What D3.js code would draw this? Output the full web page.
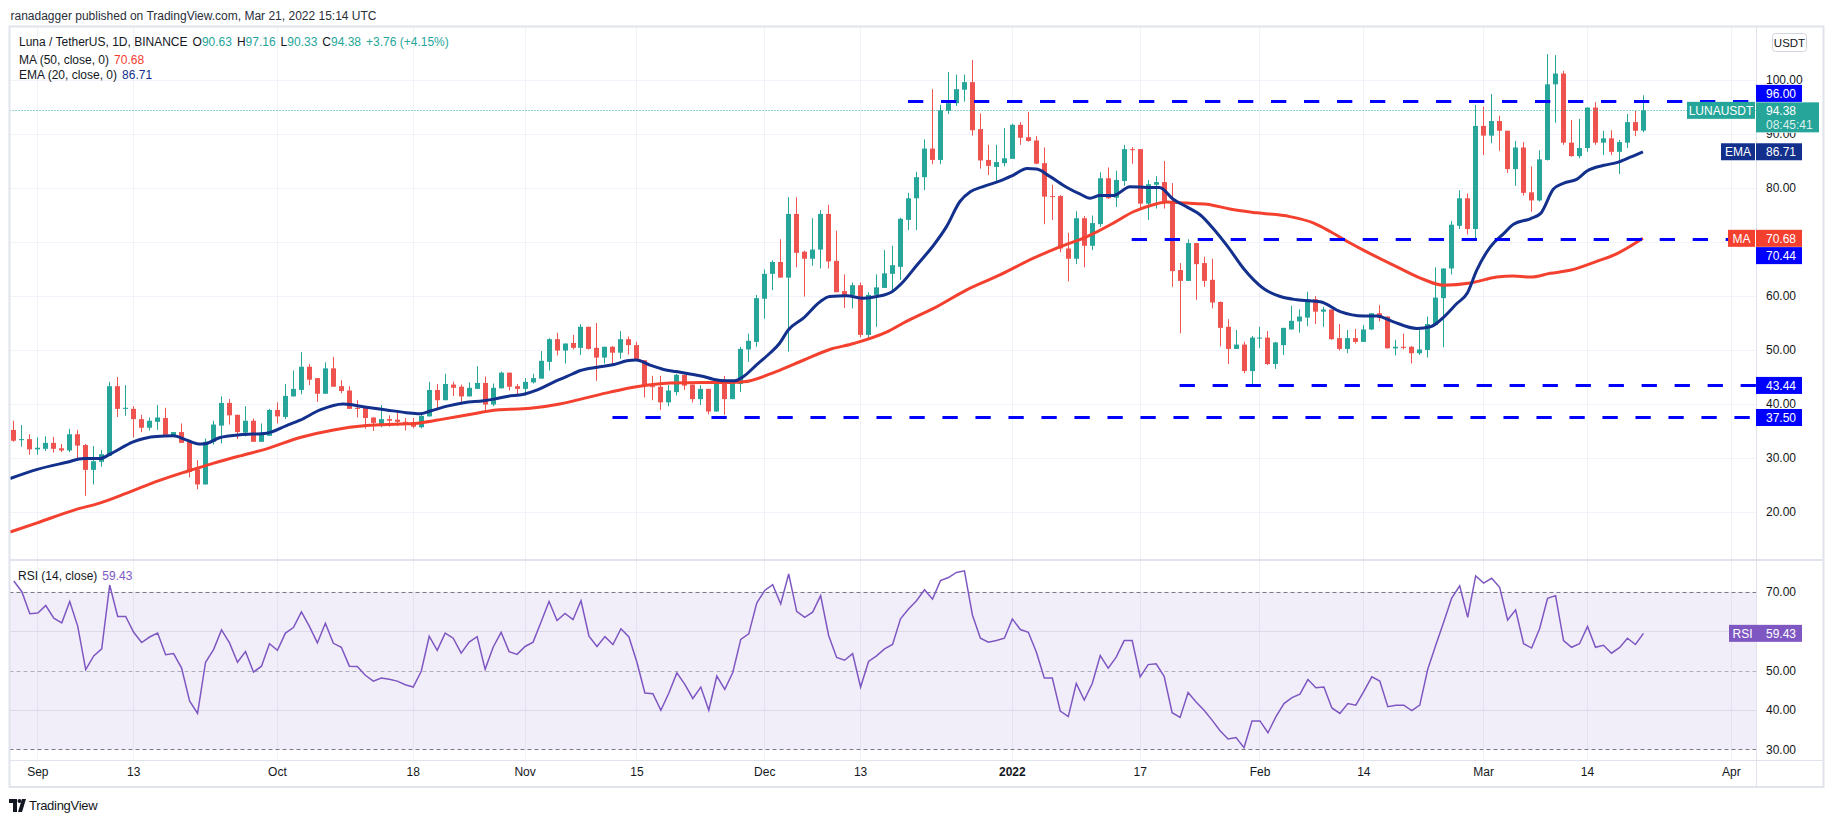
<!DOCTYPE html>
<html>
<head>
<meta charset="utf-8">
<script src="https://cdn.jsdelivr.net/npm/d3@7"></script>
<style>
html, body { margin: 0; padding: 0; background: #fff; }
svg { display: block; font-family: "Liberation Sans", Arial, sans-serif; }
</style>
</head>
<body>
<svg id="chart" width="1834" height="823"></svg>
<script>
// daily candles, Aug 29 2021 .. Mar 21 2022
var firstDay = Date.UTC(2021, 7, 29);

var opens = [
  35.2,33.3,33.5,31.6,31.7,32.8,31.8,31.4,34.4,32.4,
  27.8,29.3,30.4,43.3,39.1,39.1,37.2,35.6,36.7,37.4,
  34.2,34.8,33.0,27.9,25.1,33.0,36.0,40.2,38.0,34.7,
  36.9,33.0,34.1,38.9,37.6,41.4,42.6,46.9,44.8,41.9,
  46.6,43.3,42.5,39.3,39.3,37.5,36.2,37.2,37.1,36.7,
  36.6,35.7,37.7,42.6,40.7,43.6,43.2,41.4,42.8,43.9,
  39.9,42.9,45.8,43.3,42.8,44.0,44.7,47.8,52.0,49.9,
  51.3,50.4,54.3,50.4,48.6,50.6,49.5,52.0,50.9,48.1,
  43.3,43.2,40.3,42.2,45.4,43.6,40.9,42.8,38.6,43.8,
  40.9,43.7,50.1,51.5,59.5,64.1,66.3,63.4,75.2,68.2,
  66.9,68.6,75.2,66.5,60.9,60.2,62.0,52.8,60.2,61.5,
  64.1,65.4,74.1,78.1,82.0,87.3,85.2,94.3,95.7,98.2,
  99.6,90.9,85.2,83.9,84.6,85.4,91.7,89.4,88.8,84.6,
  78.5,78.5,68.8,66.9,74.4,69.3,73.3,81.8,78.2,81.3,
  87.2,87.2,77.1,80.6,81.1,77.5,64.8,62.8,69.8,66.1,
  63.0,58.9,54.3,50.2,51.0,46.1,52.2,52.3,47.4,50.9,
  53.8,55.3,56.0,59.4,57.1,57.5,52.2,50.2,52.2,51.5,
  53.8,56.8,56.2,50.3,50.6,50.6,49.4,50.0,54.6,59.6,
  65.1,73.0,78.1,72.4,91.5,89.7,92.4,90.6,83.5,87.5,
  79.2,77.7,85.2,99.2,101.2,88.4,85.9,87.4,94.9,88.4,
  89.2,86.7,88.4,92.2,90.63
];
var highs = [
  36.9,36.1,34.4,33.8,34.0,33.9,32.6,35.4,35.2,32.6,
  32.2,31.5,44.1,45.0,43.5,39.6,38.0,37.5,39.8,39.3,
  34.8,36.4,33.0,29.6,33.6,36.9,41.4,40.9,38.0,39.6,
  37.3,36.4,39.1,40.3,43.7,46.2,49.6,47.4,44.8,47.7,
  48.7,44.4,43.3,40.7,39.3,37.5,39.8,37.9,38.5,37.4,
  37.4,38.3,44.1,43.7,45.6,44.1,43.6,44.0,47.0,45.1,
  43.8,46.0,45.8,43.7,44.8,45.6,49.8,52.2,53.2,51.2,
  52.8,54.8,54.3,55.0,50.6,50.7,53.5,52.5,51.5,48.1,
  45.2,45.2,43.5,45.6,45.4,43.6,43.5,42.8,43.8,45.2,
  44.4,50.6,53.0,60.2,64.9,66.6,70.5,78.3,78.3,68.4,
  74.4,75.9,76.9,72.1,64.0,62.5,62.5,60.7,64.0,68.5,
  69.3,74.5,79.1,83.0,89.0,98.3,95.4,101.5,101.0,101.0,
  103.7,93.8,88.0,88.0,91.1,91.9,92.2,94.1,89.6,87.5,
  80.6,78.7,71.7,75.7,74.8,74.9,82.9,83.8,83.2,88.0,
  87.6,87.2,81.5,82.2,85.0,80.9,66.1,70.5,69.8,67.3,
  66.9,59.0,55.7,53.7,51.5,52.6,54.3,53.5,51.5,54.1,
  58.2,57.5,60.8,60.0,58.0,57.5,54.8,53.7,53.9,54.6,
  56.8,58.3,56.2,51.9,53.0,50.7,54.2,56.2,65.3,65.1,
  73.9,79.6,79.0,95.4,95.1,97.4,93.4,90.6,88.7,88.5,
  84.0,87.0,104.8,104.6,101.7,92.6,92.8,94.9,95.9,90.6,
  90.7,88.9,93.7,94.3,97.16
];
var lows = [
  33.0,32.1,30.6,30.6,31.3,31.0,31.1,31.1,30.0,23.0,
  25.1,28.4,30.4,37.6,37.8,33.8,34.8,35.1,35.2,34.2,
  34.0,32.8,26.4,24.2,25.1,32.5,32.7,36.2,33.5,34.0,
  33.0,33.0,34.1,36.4,37.2,41.4,41.8,43.5,40.4,41.9,
  43.2,42.0,39.1,37.5,35.4,35.0,35.7,35.8,35.9,35.1,
  35.5,35.5,37.7,39.1,40.7,41.5,40.1,41.4,42.8,38.6,
  39.6,42.9,42.5,41.5,41.5,43.8,44.7,46.2,49.0,47.5,
  50.1,49.1,50.1,44.3,47.5,47.2,48.4,49.2,48.0,41.2,
  40.7,38.9,39.6,41.6,42.6,40.3,39.8,38.1,38.6,38.0,
  40.9,42.2,47.8,50.6,55.8,61.1,63.4,49.7,65.3,59.9,
  65.6,65.1,65.1,60.7,57.8,57.7,52.3,51.9,54.3,61.5,
  60.8,63.0,72.2,72.2,79.6,84.4,84.4,93.7,95.2,96.0,
  89.7,83.6,82.4,81.2,84.0,85.4,88.0,88.6,84.4,73.3,
  74.1,68.1,62.7,65.9,65.3,68.5,72.8,78.0,76.5,80.4,
  84.5,76.2,74.1,76.2,76.2,61.7,53.1,62.8,59.3,61.7,
  57.7,50.7,47.4,50.2,45.7,43.5,50.4,47.2,46.5,49.1,
  53.8,53.2,54.4,54.8,54.3,51.9,49.9,49.4,51.2,51.5,
  53.7,55.3,50.3,49.0,50.1,47.5,49.1,48.6,54.6,50.5,
  64.0,72.4,71.4,70.6,86.1,88.3,86.9,82.8,80.4,78.6,
  75.6,77.5,85.1,92.1,88.0,85.8,85.5,86.7,88.0,86.1,
  86.1,82.6,87.4,89.6,90.33
];
var closes = [
  33.2,33.5,31.6,31.9,32.8,31.7,31.4,34.4,32.3,27.8,
  29.4,30.7,43.3,39.1,39.3,37.2,35.6,36.9,37.5,34.3,
  34.8,32.8,27.4,25.1,33.0,36.2,40.2,37.9,34.8,36.9,
  33.0,34.3,38.9,37.7,41.5,42.8,46.9,44.5,41.9,46.6,
  43.2,42.4,39.1,39.1,37.4,36.5,37.2,36.9,36.7,36.5,
  35.8,37.8,42.6,40.7,43.7,43.0,41.4,43.0,43.9,39.9,
  43.0,45.8,43.2,42.8,44.1,44.8,48.0,52.0,49.9,51.2,
  50.4,54.3,50.2,48.6,50.6,49.5,52.0,50.9,48.0,43.3,
  43.2,40.3,42.5,45.4,43.4,40.9,42.8,38.6,43.8,40.9,
  44.0,50.2,51.7,59.6,64.1,66.3,63.4,75.2,68.0,66.9,
  68.6,75.2,66.4,60.7,60.1,62.0,52.8,60.2,61.6,64.2,
  65.7,74.3,78.1,82.0,87.3,85.2,94.4,95.7,98.3,99.6,
  90.7,85.1,84.1,84.8,85.5,91.7,89.3,88.7,84.5,78.4,
  78.4,68.8,66.9,74.4,69.3,73.5,81.8,78.1,81.5,87.2,
  87.0,77.1,80.7,81.1,77.5,64.6,62.8,69.8,65.9,62.8,
  58.8,54.1,50.2,51.0,46.1,52.3,52.3,47.4,51.4,54.1,
  55.4,56.2,59.4,57.1,57.5,52.0,50.2,52.2,51.5,53.8,
  56.8,56.0,50.3,50.6,50.4,49.4,50.1,54.8,59.7,65.1,
  73.2,78.1,72.4,91.5,89.7,92.4,90.6,83.5,87.5,79.1,
  77.7,85.3,99.2,101.2,88.4,85.9,87.4,94.9,88.4,89.2,
  86.7,88.5,92.2,90.6,94.38
];
var rsiValues = [
  72.7,70.0,64.4,64.6,66.5,63.3,62.1,67.5,61.2,50.2,
  53.7,55.5,71.7,63.7,63.7,59.7,57.1,58.5,59.5,54.0,
  54.3,50.6,42.3,39.1,52.1,55.3,60.3,57.0,52.1,54.8,
  49.6,51.1,56.8,55.1,59.5,60.9,64.9,61.2,57.0,62.0,
  56.9,55.9,51.1,51.0,48.8,47.3,48.1,47.8,47.3,46.4,
  45.8,49.8,58.7,55.1,59.5,58.2,54.4,57.2,58.6,50.3,
  55.9,59.7,54.8,54.1,56.1,57.2,62.3,67.5,62.7,64.5,
  62.9,67.7,58.7,56.1,58.6,56.6,60.6,58.5,52.1,44.3,
  44.1,39.9,44.3,49.4,46.5,42.9,45.8,39.9,48.6,45.2,
  49.5,57.9,59.3,67.1,70.3,71.8,66.9,74.5,65.0,63.5,
  64.8,69.0,58.9,53.3,52.6,54.3,45.8,52.3,53.7,55.5,
  56.6,63.1,65.6,67.7,70.5,68.1,72.8,73.6,74.9,75.3,
  64.1,58.2,57.2,57.6,58.2,63.1,60.4,59.7,54.7,48.1,
  48.1,39.7,38.3,46.7,42.5,46.7,53.8,50.6,53.4,57.6,
  57.6,48.4,51.5,51.7,48.5,39.3,38.1,44.4,42.0,39.9,
  37.4,34.7,32.6,33.0,30.4,37.2,37.2,34.2,38.3,41.6,
  43.1,44.0,47.7,45.6,45.8,40.5,39.1,41.6,41.2,44.7,
  48.4,47.3,40.8,41.2,41.2,39.8,41.2,50.3,56.4,62.3,
  68.4,71.5,63.5,74.0,72.2,73.4,71.1,62.8,65.4,56.8,
  55.7,60.6,68.3,69.0,57.6,55.9,56.8,61.2,55.9,56.4,
  54.4,55.8,58.2,56.6,59.43
];

// moving averages, days counted from Sep 1 2021
var maDays = [-3.4,0,4.7,7.9,11.2,15.4,18.7,22.0,25.4,28.7,32.9,37.1,41.2,45.4,47.9,50.8,55.0,57.5,61.7,65.4,
  68.3,71.7,75.0,79.2,83.4,86.7,88.4,92.5,95.9,99.2,102.2,106.3,108.8,112.2,116.3,120.5,124.7,128.0,131.4,134.7,
  137.2,139.7,141.4,143.9,146.4,149.3,152.7,156.8,159.8,161.9,164.0,166.0,170.2,173.5,176.0,179.4,182.7,184.8,186.9,189.4,
  192.0,195.2,197.7,201];
var maValues = [16.3,18.0,20.4,21.7,23.5,25.9,27.5,29.0,30.4,31.7,33.8,35.2,36.0,36.3,36.5,37.2,38.3,38.9,39.2,40.0,
  41.0,42.2,43.2,43.9,44.0,44.0,44.1,46.0,48.1,50.1,51.2,53.3,55.3,57.7,61.1,63.9,67.0,69.1,71.0,73.5,
  75.6,76.9,77.4,77.2,77.0,76.1,75.4,74.7,73.5,71.9,70.1,68.5,65.4,63.1,62.0,62.4,63.5,63.7,63.5,64.2,
  64.8,66.4,67.8,70.68];
var emaDays = [-3.4,0,3.7,5.8,7.9,9.1,12.0,14.9,17.0,18.7,20.2,21.0,22.9,25.4,28.7,31.2,32.9,35.4,38.3,41.2,
  43.7,46.2,47.9,49.2,51.3,53.4,55.9,57.2,58.8,60.9,62.6,64.7,66.3,68.0,70.1,72.2,73.8,75.0,76.7,78.4,
  80.0,81.7,83.4,84.6,86.3,87.3,88.4,90.0,91.7,92.9,94.0,95.9,98.0,99.2,101.3,103.4,105.1,107.0,108.4,110.1,
  112.2,113.8,115.5,116.8,118.4,120.7,122.2,123.9,125.1,126.8,128.9,130.5,131.8,133.0,134.7,136.8,138.9,140.5,142.2,143.9,
  145.6,147.2,149.1,151.0,153.5,155.6,157.7,160.6,163.1,166.0,167.7,169.7,172.7,174.4,176.0,177.7,179.0,180.2,181.9,183.6,
  184.8,186.9,188.2,189.8,191.1,192.7,194.0,196.1,197.7,199.4,201];
var emaValues = [26.2,27.9,29.2,29.9,29.9,30.7,33.0,34.0,34.1,33.3,32.6,32.65,33.8,34.3,34.6,36.0,37.0,38.9,40.0,39.4,
  38.9,38.4,38.2,38.7,39.6,40.25,40.6,40.9,41.4,41.8,42.6,44.1,45.1,46.2,46.8,47.3,48.0,48.15,47.2,46.4,
  46.0,45.55,45.1,44.6,44.3,44.3,45.1,47.2,49.4,51.2,53.7,55.9,58.95,59.9,60.06,59.6,59.9,60.8,62.65,65.7,
  69.4,72.8,77.5,79.3,80.25,81.4,82.4,83.6,83.5,82.1,80.1,78.9,78.1,78.6,78.6,80.25,80.1,80.1,77.9,76.5,
  75.0,72.5,69.0,65.1,61.4,59.9,59.3,58.95,57.1,56.3,56.3,55.25,54.0,54.3,56.0,58.6,60.5,64.8,69.1,71.6,
  73.3,74.3,75.3,79.8,80.9,81.6,83.15,84.2,84.7,85.7,86.71];

// horizontal levels drawn on the chart (value, start day from Sep 1)
var levelValues = [96.00, 70.44, 43.44, 37.50];
var levelStarts = [109, 137, 143, 72];

var timeTicks = ['2021-09-01','2021-09-13','2021-10-01','2021-10-18','2021-11-01','2021-11-15','2021-12-01',
  '2021-12-13','2022-01-01','2022-01-17','2022-02-01','2022-02-14','2022-03-01','2022-03-14','2022-04-01'];
var timeLabels = ['Sep','13','Oct','18','Nov','15','Dec','13','2022','17','Feb','14','Mar','14','Apr'];
// 70.00 and 60.00 sit under the MA / RSI tags in the reference, so they are not shown
var priceTicks = [20, 30, 40, 50, 60, 80, 90, 100];
var rsiTicks = [30, 40, 50, 70];

var up = '#26a69a', down = '#ef5350', maColor = '#f3402f', emaColor = '#12308c',
  lvlColor = '#0000ff', rsiColor = '#7e57c2', gridColor = '#f0f3fa', border = '#e0e3eb', txt = '#131722';

var left = 9.5, axisX = 1756, right = 1823.5,
  paneTop = 26.5, paneBottom = 560, rsiBottom = 760, frameBottom = 787;

var sep1 = new Date(Date.UTC(2021, 8, 1));
var parse = d3.utcParse('%Y-%m-%d');
var x = d3.scaleUtc().domain([sep1, parse('2022-04-01')]).range([37.3, 1730.8]);
var y = d3.scaleLinear().domain([20, 100]).range([512, 80]);
var yr = d3.scaleLinear().domain([30, 70]).range([749.3, 591.7]);
function dayDate(d) { return new Date(sep1.getTime() + d * 864e5); }

var candles = opens.map(function(o, i) {
  return {t: d3.utcDay.offset(new Date(firstDay), i), o: o, h: highs[i], l: lows[i], c: closes[i], r: rsiValues[i]};
});

var svg = d3.select('#chart');
var defs = svg.append('defs');
defs.append('clipPath').attr('id', 'clipP').append('rect')
  .attr('x', left).attr('y', paneTop).attr('width', axisX - left).attr('height', paneBottom - paneTop);
defs.append('clipPath').attr('id', 'clipR').append('rect')
  .attr('x', left).attr('y', paneBottom).attr('width', axisX - left).attr('height', rsiBottom - paneBottom);
// price labels are hidden where the last-price tag covers them
defs.append('clipPath').attr('id', 'clipAxis').append('rect')
  .attr('x', axisX).attr('y', y(94.38) + 22.5).attr('width', 80).attr('height', paneBottom - y(94.38) - 22.5);

svg.append('rect').attr('width', 1834).attr('height', 823).attr('fill', '#fff');

// header
svg.append('text').attr('x', 10.5).attr('y', 19.5).attr('font-size', 12).attr('fill', '#2a2e39')
  .text('ranadagger published on TradingView.com, Mar 21, 2022 15:14 UTC');

// grid
var grid = svg.append('g');
grid.selectAll('line.v').data(timeTicks).join('line')
  .attr('x1', function(d) { return Math.round(x(parse(d))) + 0.5; })
  .attr('x2', function(d) { return Math.round(x(parse(d))) + 0.5; })
  .attr('y1', paneTop).attr('y2', rsiBottom).attr('stroke', gridColor);
grid.selectAll('line.h').data(d3.range(20, 101, 10)).join('line')
  .attr('x1', left).attr('x2', axisX)
  .attr('y1', function(d) { return Math.round(y(d)) + 0.5; })
  .attr('y2', function(d) { return Math.round(y(d)) + 0.5; })
  .attr('stroke', gridColor);
grid.selectAll('line.r').data([40, 60]).join('line')
  .attr('x1', left).attr('x2', axisX)
  .attr('y1', function(d) { return Math.round(yr(d)) + 0.5; })
  .attr('y2', function(d) { return Math.round(yr(d)) + 0.5; })
  .attr('stroke', '#e7e9ef');

// rsi band
svg.append('rect').attr('x', left).attr('y', yr(70)).attr('width', axisX - left).attr('height', yr(30) - yr(70))
  .attr('fill', rsiColor).attr('fill-opacity', 0.1);
svg.selectAll('line.rd').data([70, 50, 30]).join('line')
  .attr('x1', left).attr('x2', axisX)
  .attr('y1', function(d) { return Math.round(yr(d)) + 0.5; })
  .attr('y2', function(d) { return Math.round(yr(d)) + 0.5; })
  .attr('stroke', '#787b86').attr('stroke-opacity', function(d) { return d == 50 ? 0.55 : 1; })
  .attr('stroke-dasharray', '4,3');

// candles
var pane = svg.append('g').attr('clip-path', 'url(#clipP)');
var cg = pane.selectAll('g.c').data(candles).join('g');
cg.append('rect')
  .attr('x', function(d) { return Math.round(x(d.t)); })
  .attr('y', function(d) { return y(d.h); })
  .attr('width', 1)
  .attr('height', function(d) { return y(d.l) - y(d.h); })
  .attr('fill', function(d) { return d.c >= d.o ? up : down; });
cg.append('rect')
  .attr('x', function(d) { return Math.round(x(d.t)) - 2; })
  .attr('y', function(d) { return y(Math.max(d.o, d.c)); })
  .attr('width', 5)
  .attr('height', function(d) { return Math.max(1, Math.abs(y(d.o) - y(d.c))); })
  .attr('fill', function(d) { return d.c >= d.o ? up : down; });

// moving averages
var avgLine = d3.line()
  .x(function(d) { return x(dayDate(d[0])); })
  .y(function(d) { return y(d[1]); })
  .curve(d3.curveMonotoneX);
pane.append('path').datum(d3.zip(maDays, maValues)).attr('d', avgLine)
  .attr('fill', 'none').attr('stroke', maColor).attr('stroke-width', 3);
pane.append('path').datum(d3.zip(emaDays, emaValues)).attr('d', avgLine)
  .attr('fill', 'none').attr('stroke', emaColor).attr('stroke-width', 3);

// last price dotted line
pane.append('line').attr('x1', left).attr('x2', axisX)
  .attr('y1', Math.round(y(94.38)) + 0.5).attr('y2', Math.round(y(94.38)) + 0.5)
  .attr('stroke', up).attr('stroke-dasharray', '1,2');

// horizontal levels
pane.selectAll('line.lvl').data(levelValues).join('line')
  .attr('x1', function(d, i) { return x(dayDate(levelStarts[i])); })
  .attr('x2', axisX)
  .attr('y1', function(d) { return y(d); }).attr('y2', function(d) { return y(d); })
  .attr('stroke', lvlColor).attr('stroke-width', 3).attr('stroke-dasharray', '15.3,17.7');

// rsi line
svg.append('g').attr('clip-path', 'url(#clipR)').append('path').datum(candles)
  .attr('d', d3.line().x(function(d) { return x(d.t) + 0.5; }).y(function(d) { return yr(d.r); }))
  .attr('fill', 'none').attr('stroke', rsiColor).attr('stroke-width', 1.5);

// frame and separators
svg.append('rect').attr('x', left).attr('y', paneTop).attr('width', right - left).attr('height', frameBottom - paneTop)
  .attr('fill', 'none').attr('stroke', border).attr('stroke-width', 2);
svg.append('line').attr('x1', left).attr('x2', right).attr('y1', paneBottom).attr('y2', paneBottom)
  .attr('stroke', border).attr('stroke-width', 2);
svg.append('line').attr('x1', left).attr('x2', right).attr('y1', rsiBottom + 0.5).attr('y2', rsiBottom + 0.5)
  .attr('stroke', border);
svg.append('line').attr('x1', axisX + 0.5).attr('x2', axisX + 0.5).attr('y1', paneTop).attr('y2', frameBottom)
  .attr('stroke', border);

// time axis
var tAxis = svg.append('g').attr('transform', 'translate(0,' + (rsiBottom + 4) + ')')
  .call(d3.axisBottom(x).tickValues(timeTicks.map(parse)).tickSize(0)
    .tickFormat(function(d, i) { return timeLabels[i]; }));
tAxis.select('.domain').remove();
tAxis.selectAll('text').attr('font-size', 12).attr('fill', txt)
  .attr('font-family', '"Liberation Sans", Arial, sans-serif')
  .attr('font-weight', function(d, i) { return timeLabels[i] == '2022' ? 'bold' : 'normal'; });

// price axis
svg.append('g').attr('clip-path', 'url(#clipAxis)').selectAll('text').data(priceTicks.filter(function(d) { return d < 90; }))
  .join('text')
  .attr('x', 1766).attr('y', function(d) { return y(d); }).attr('dy', '0.35em')
  .attr('font-size', 12).attr('fill', txt).text(function(d) { return d.toFixed(2); });
svg.append('g').attr('clip-path', 'url(#clipAxis)').append('text')
  .attr('x', 1766).attr('y', y(90)).attr('dy', '0.35em')
  .attr('font-size', 12).attr('fill', txt).text('90.00');
svg.append('text').attr('x', 1766).attr('y', y(100)).attr('dy', '0.35em')
  .attr('font-size', 12).attr('fill', txt).text('100.00');
svg.selectAll('text.rt').data(rsiTicks).join('text')
  .attr('x', 1766).attr('y', function(d) { return yr(d); }).attr('dy', '0.35em')
  .attr('font-size', 12).attr('fill', txt).text(function(d) { return d.toFixed(2); });

// USDT button
svg.append('rect').attr('x', 1772.5).attr('y', 33.5).attr('width', 34).attr('height', 18).attr('rx', 3)
  .attr('fill', '#fff').attr('stroke', '#d1d4dc');
svg.append('text').attr('x', 1789.5).attr('y', 42.5).attr('dy', '0.35em').attr('text-anchor', 'middle')
  .attr('font-size', 11.5).attr('fill', txt).text('USDT');

// axis tags
function tag(x0, w, cy, color, label, anchor) {
  svg.append('rect').attr('x', x0).attr('y', cy - 8.5).attr('width', w).attr('height', 17).attr('fill', color);
  svg.append('text').attr('x', anchor == 'middle' ? x0 + w / 2 : 1766).attr('y', cy).attr('dy', '0.35em')
    .attr('text-anchor', anchor || 'start').attr('font-size', 12).attr('fill', '#fff').text(label);
}
tag(axisX, 46, y(96) - 8.2, lvlColor, '96.00');
svg.append('rect').attr('x', axisX).attr('y', y(94.38) - 8).attr('width', 63).attr('height', 30).attr('fill', up);
svg.append('text').attr('x', 1766).attr('y', y(94.38)).attr('dy', '0.35em').attr('font-size', 12).attr('fill', '#fff').text('94.38');
svg.append('text').attr('x', 1766).attr('y', y(94.38) + 14.5).attr('dy', '0.35em').attr('font-size', 12)
  .attr('fill', '#fff').attr('fill-opacity', 0.85).text('08:45:41');
tag(1687, 68, y(94.38), up, 'LUNAUSDT', 'middle');
tag(axisX, 46, y(86.71), emaColor, '86.71');
tag(1721, 34, y(86.71), emaColor, 'EMA', 'middle');
tag(axisX, 46, y(70.68), maColor, '70.68');
tag(1728, 27, y(70.68), maColor, 'MA', 'middle');
tag(axisX, 46, y(70.44) + 16, lvlColor, '70.44');
tag(axisX, 46, y(43.44), lvlColor, '43.44');
tag(axisX, 46, y(37.50), lvlColor, '37.50');
tag(axisX, 46, yr(59.43), rsiColor, '59.43');
tag(1729, 27, yr(59.43), rsiColor, 'RSI', 'middle');

// legends
var l1 = svg.append('text').attr('x', 19).attr('y', 46).attr('font-size', 12).attr('fill', txt);
l1.append('tspan').text('Luna / TetherUS, 1D, BINANCE');
[['O', '90.63'], ['H', '97.16'], ['L', '90.33'], ['C', '94.38']].forEach(function(p) {
  l1.append('tspan').attr('dx', 5).text(p[0]);
  l1.append('tspan').attr('fill', up).text(p[1]);
});
l1.append('tspan').attr('dx', 5).attr('fill', up).text('+3.76 (+4.15%)');

var l2 = svg.append('text').attr('x', 19).attr('y', 64).attr('font-size', 12).attr('fill', txt);
l2.append('tspan').text('MA (50, close, 0)');
l2.append('tspan').attr('dx', 5).attr('fill', maColor).text('70.68');
var l3 = svg.append('text').attr('x', 19).attr('y', 79).attr('font-size', 12).attr('fill', txt);
l3.append('tspan').text('EMA (20, close, 0)');
l3.append('tspan').attr('dx', 5).attr('fill', emaColor).text('86.71');
var l4 = svg.append('text').attr('x', 18).attr('y', 580).attr('font-size', 12).attr('fill', txt);
l4.append('tspan').text('RSI (14, close)');
l4.append('tspan').attr('dx', 5).attr('fill', rsiColor).text('59.43');

// footer logo
var logo = svg.append('g').attr('fill', txt);
logo.append('path').attr('d', 'M9,799 h8 v13 h-4 v-9 h-4 z');
logo.append('circle').attr('cx', 19.5).attr('cy', 801).attr('r', 2);
logo.append('path').attr('d', 'M22,799 h4 l-4,13 h-4 z');
logo.append('text').attr('x', 29).attr('y', 810).attr('font-size', 13).attr('letter-spacing', -0.3).text('TradingView');
</script>
</body>
</html>
